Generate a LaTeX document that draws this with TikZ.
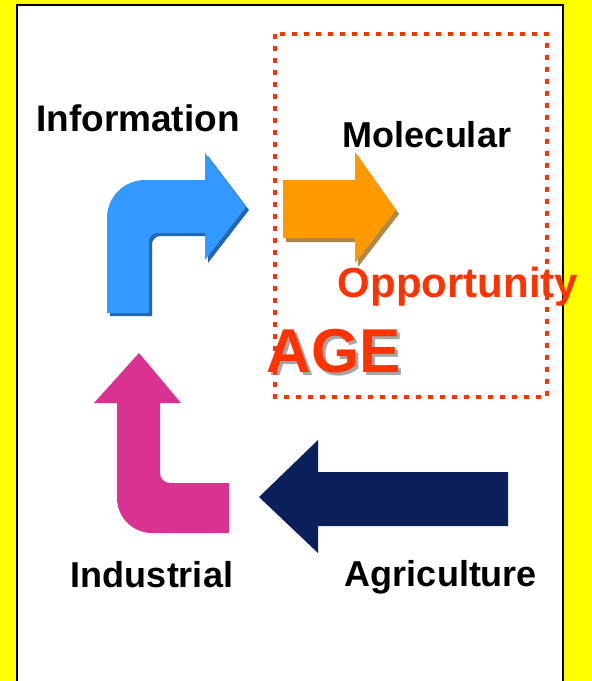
\documentclass[tikz,border=0pt]{standalone}
\usepackage{fontspec}
\setmainfont{Liberation Sans}
\usetikzlibrary{positioning, shadows}

\definecolor{pageyellow}{HTML}{FFFF00}
\definecolor{agered}{HTML}{FF3300}
\definecolor{infoblue}{HTML}{3399FF}
\definecolor{infoshade}{HTML}{2366B0}
\definecolor{molorange}{HTML}{FF9900}
\definecolor{molshade}{HTML}{9C6A1E}
\definecolor{indpink}{HTML}{D93291}
\definecolor{agrinavy}{HTML}{0B1F5B}

\begin{document}
\begin{tikzpicture}[x=0.5pt, y=-0.5pt,
  agelabel/.style={font=\fontsize{18}{20}\selectfont\bfseries, anchor=base, inner sep=0pt},
  redlabel/.style={agelabel, text=agered}]
  \useasboundingbox (0,0) rectangle (592,681);
  \fill[pageyellow] (0,0) rectangle (592,681);
  \draw[fill=white, line width=1.25pt] (17,690) -- (17,5) -- (563,5) -- (563,690);

  % the four ages
  \fill[infoblue, drop shadow={shadow xshift=1.5pt, shadow yshift=-1.5pt, fill=infoshade, opacity=1}]
    (107,313) -- (107,218) .. controls (107,197) and (124,180) .. (145,180) -- (205,180)
    -- (205,153) -- (246,207) -- (205,260) -- (205,233) -- (157,233)
    .. controls (153,233) and (149,237) .. (149,241) -- (149,313) -- cycle;
  \fill[molorange, drop shadow={shadow xshift=1.5pt, shadow yshift=-2pt, fill=molshade, opacity=0.8}]
    (283,180) -- (355,180) -- (355,152) -- (396,210) -- (355,263) -- (355,238) -- (283,238) -- cycle;
  \fill[indpink]
    (139,353) -- (181,403) -- (160,403) -- (160,473) .. controls (160,478.5) and (164.5,483) .. (170,483)
    -- (229,483) -- (229,533) -- (152,533) .. controls (132.7,533) and (117,517.3) .. (117,498)
    -- (117,403) -- (94,403) -- cycle;
  \fill[agrinavy]
    (259,497) -- (318,440) -- (318,472) -- (508,472) -- (508,526) -- (318,526) -- (318,553) -- cycle;

  \node[agelabel, font=\fontsize{18.5}{21}\selectfont\bfseries] (info) at (138,131) {Information};
  \node[agelabel] (mol) at (427,147) {Molecular};
  \node[agelabel] (indus) at (152,587) {Industrial};
  \node[agelabel] (agri) at (441,586) {Agriculture};

  \node[redlabel, font=\fontsize{21}{23}\selectfont\bfseries] (opp) at (458,297) {Opportunity};
  \node[agelabel, font=\fontsize{31}{34}\selectfont\bfseries, text=black!35] (ageshade) at (337,375) {AGE};
  \node[redlabel, font=\fontsize{31}{34}\selectfont\bfseries] (age) at (334,372) {AGE};

  % window round the next age
  \draw[agered, line width=2.2pt, dash pattern=on 2.6pt off 3.4pt] (275,34) rectangle (547,397);
\end{tikzpicture}
\end{document}
